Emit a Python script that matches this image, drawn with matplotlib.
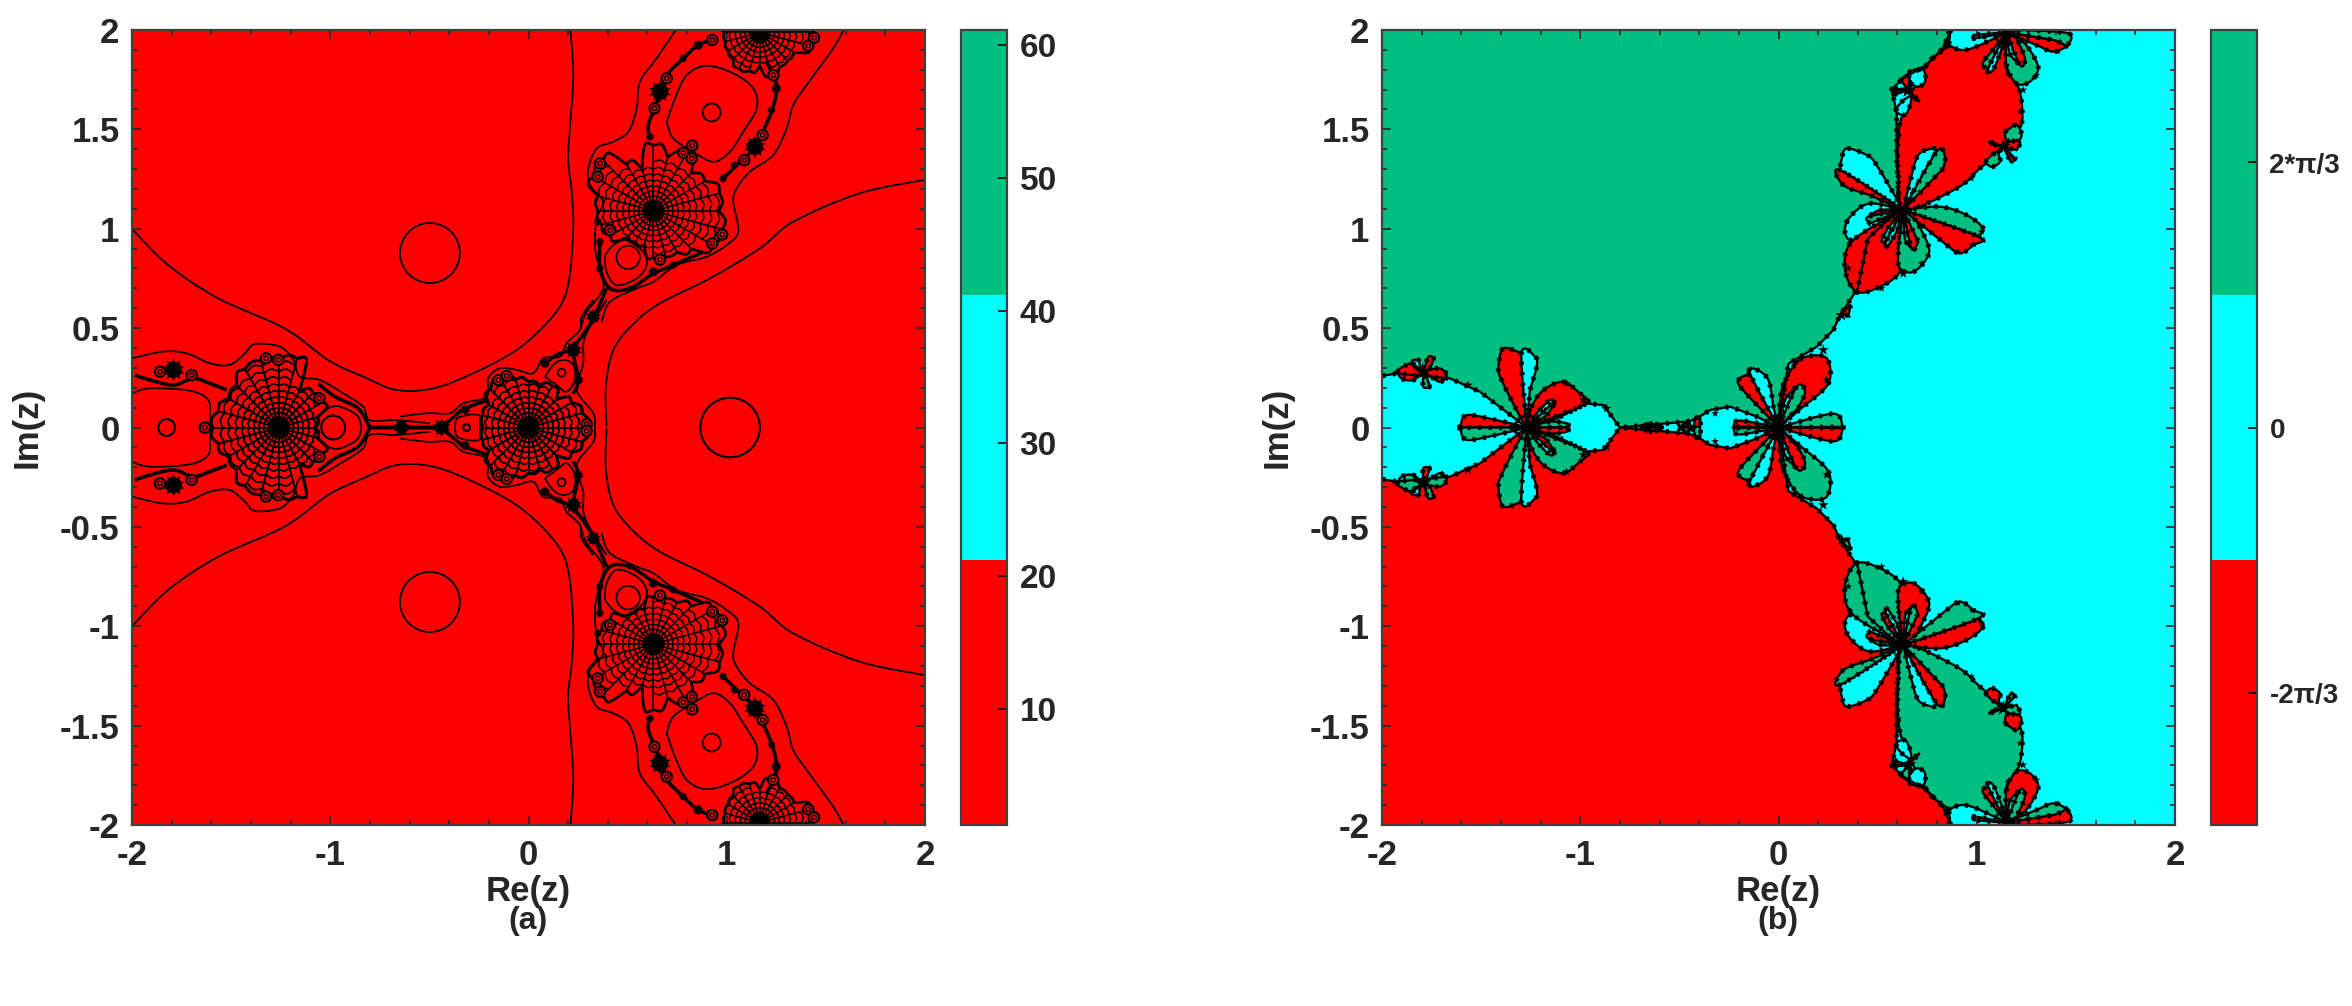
import numpy as np
import matplotlib
matplotlib.use('Agg')
import matplotlib.pyplot as plt
from matplotlib.path import Path
from matplotlib.patches import PathPatch, Circle
from matplotlib.colors import ListedColormap, Normalize
from matplotlib.cm import ScalarMappable

plt.rcParams['font.family'] = ['Liberation Sans', 'DejaVu Sans']
plt.rcParams['font.weight'] = 'bold'
plt.rcParams['axes.unicode_minus'] = False

RED = '#ff0000'
CYAN = '#00ffff'
GREEN = '#00bf80'
SWAP = {RED: GREEN, GREEN: RED, CYAN: CYAN}

x_ticks = [-2, -1, 0, 1, 2]
y_ticks = [-2, -1.5, -1, -0.5, 0, 0.5, 1, 1.5, 2]
y_tick_labels = ['-2', '-1.5', '-1', '-0.5', '0', '0.5', '1', '1.5', '2']
cbar_a_ticks = [10, 20, 30, 40, 50, 60]
cbar_a_range = [1.3, 61.1]
cbar_b_ticks = [-2 * np.pi / 3, 0, 2 * np.pi / 3]
cbar_b_labels = ['-2π/3', '0', '2*π/3']
cbar_b_range = [-np.pi, np.pi]

# ---- panel (a): contour lines, upper half (z, conj z look alike)
outer_left = [(-2, 1), (-1.817, .817), (-1.565, .65), (-1.229, .498), (-1.01, .339), (-.834, .256), (-.666, .189),
              (-.48, .197), (-.278, .273), (-.06, .39), (.092, .525), (.176, .642), (.21, .78), (.226, 1.018),
              (.218, 1.186), (.2, 1.35), (.21, 1.52), (.226, 1.773), (.21, 2.02)]
outer_right = [(2.02, 1.25), (1.67, 1.178), (1.335, 1.035), (1.167, .901), (.915, .75), (.663, .625), (.528, .52),
               (.428, .39), (.39, .206), (.394, .004)]
wrap_left = [(.756, 2.02), (.646, 1.857), (.562, 1.74), (.546, 1.606), (.504, 1.488), (.428, 1.438), (.344, 1.404),
             (.302, 1.304), (.31, 1.22), (.377, 1.136), (.344, 1.052), (.335, .918), (.352, .817), (.377, .70),
             (.293, .582), (.268, .515)]
wrap_right = [(1.6, 2.02), (1.537, 1.908), (1.403, 1.723), (1.335, 1.622), (1.302, 1.505), (1.235, 1.371),
              (1.117, 1.287), (1.05, 1.203), (1.033, 1.136), (1.058, .985), (.999, .918), (.898, .859), (.747, .817),
              (.63, .733), (.546, .70), (.411, .632), (.369, .532)]
wrap_f1_left = [(-.648, .055), (-.514, .072), (-.396, .072), (-.329, .122), (-.211, .155), (-.203, .248),
                (-.144, .298), (-.06, .29), (.024, .273), (.075, .348), (.159, .357), (.192, .424), (.26, .491),
                (.268, .558), (.327, .642)]
wrap_f1_right = [(.394, .642), (.285, .457), (.276, .323), (.243, .189), (.327, .072), (.335, 0)]
wrap_f2 = [(-2, .348), (-1.842, .382), (-1.724, .373), (-1.607, .323), (-1.506, .315), (-1.43, .373), (-1.38, .42),
           (-1.254, .407), (-1.186, .34), (-1.153, .256), (-1.052, .239), (-.934, .172), (-.834, .105), (-.8, .037),
           (-.665, .037), (-.497, .021)]
blob_top = [(.697, 1.538), (.739, 1.656), (.798, 1.773), (.898, 1.82), (1.033, 1.782), (1.134, 1.706), (1.151, 1.606),
            (1.083, 1.488), (1.016, 1.387), (.932, 1.337), (.831, 1.387), (.73, 1.455), (.697, 1.538)]
blob_low = [(.386, .867), (.428, .918), (.495, .943), (.579, .884), (.596, .817), (.546, .75), (.445, .716),
            (.394, .783), (.386, .867)]
blob_f1 = [(.083, .256), (.125, .315), (.176, .34), (.226, .315), (.234, .239), (.192, .18), (.142, .214), (.083, .256)]
blob_left = [(-2, .172), (-1.909, .197), (-1.707, .185), (-1.615, .138), (-1.607, .054), (-1.598, 0)]
blob_f2 = [(-1.077, 0), (-1.044, .071), (-.968, .108), (-.867, .063), (-.842, 0)]
blob_f1_left = [(-.371, 0), (-.354, .05), (-.253, .063), (-.228, 0)]
contours_a = [outer_left, outer_right, wrap_left, wrap_right, wrap_f1_left, wrap_f1_right, wrap_f2, blob_top, blob_low,
              blob_f1, blob_left, blob_f2, blob_f1_left]

band_neck_up = [(.613, 1.455), (.604, 1.522), (.638, 1.606), (.663, 1.69), (.697, 1.773), (.781, 1.857), (.856, 1.924),
                (.949, 1.958)]
band_right = [(.982, 1.253), (1.067, 1.337), (1.142, 1.413), (1.226, 1.589), (1.251, 1.706), (1.235, 1.773), (1.201, 1.84)]
band_low = [(.361, .934), (.361, .80), (.411, .70), (.512, .70), (.63, .775), (.73, .817), (.882, .884)]
band_neck = [(.394, .70), (.327, .548), (.27, .46), (.226, .39), (.251, .24), (.225, .17)]
band_f1_top = [(.083, .323), (.15, .37), (.226, .39)]
band_f1_left = [(-.438, 0), (-.37, .06), (-.32, .096), (-.2, .14)]
band_axis = [(-.8, 0), (-.44, 0)]
band_f2_right = [(-1.06, .22), (-.976, .155), (-.859, .096), (-.8, 0)]
band_f2_left = [(-1.985, .264), (-1.909, .239), (-1.79, .214), (-1.69, .247), (-1.607, .222), (-1.522, .189)]
bands_a = [band_neck_up, band_right, band_low, band_neck, band_f1_top, band_f1_left, band_axis, band_f2_right, band_f2_left]

# flower webs: centre and reach of each spoke, every 15 degrees from 0
web_f1 = (0, 0, [.30, .28, .25, .20, .24, .22, .23, .25, .29, .27, .23, .24, .24, .24, .23, .27, .29, .25, .23, .22, .24, .20, .25, .28])
web_f2 = (-1.26, 0, [.185, .20, .26, .245, .21, .36, .34, .35, .34, .30, .29, .315, .335, .315, .29, .30, .34, .35, .34, .36, .21, .245, .26, .20])
web_f3 = (.63, 1.09, [.33, .345, .30, .27, .32, .28, .33, .22, .27, .36, .35, .29, .28, .27, .25, .19, .19, .18, .235, .24, .24, .27, .34, .36])
web_top = (1.167, 1.988, [.27, .2, .2, .2, .2, .2, .2, .2, .2, .2, .2, .2, .18, .18, .185, .19, .21, .2, .17, .22, .2, .2, .2, .26])
webs = [web_f1, web_f2, web_f3, web_top]
web_radii = [.05, .072, .095, .12, .148, .178, .21, .245, .282, .32]

clusters_a_x = [.663, 1.142, -1.79, -.64, -.438, .327, .226, -.32, .083, .251, .36, .63, .73, .51, .36, .35, .613, 1.226, 1.25, .78, .856, .982, 1.04]
clusters_a_y = [1.69, 1.413, .29, .004, 0, .558, .39, .09, .323, .24, .80, .783, .817, .70, .935, 1.035, 1.463, 1.597, 1.706, 1.857, 1.924, 1.253, 1.32]
clusters_a_r = [.05, .05, .05, .035, .04, .035, .04, .025, .025, .025, .02, .025, .02, .015, .02, .02, .02, .02, .025, .02, .025, .02, .02]

circles_x = [-.497, 1.017, .924, .503, -.985, -1.825, .167, -.312]
circles_y = [.878, 0, 1.585, .856, 0, 0, .276, 0]
circles_r = [.151, .15, .045, .059, .06, .042, .02, .017]
rings_x = [.927, 1.235, .411, .663, .361, .349, .977, .927, .697, .635, 1.181, 1.088, .826, .781, .823, 1.411, 1.44,
           -1.859, -1.699, -1.324, -1.262, -1.055, -1.632, -.152, -.11, .293]
rings_y = [1.95, 1.773, .993, .845, 1.329, 1.262, .971, .926, 1.757, 1.606, 1.471, 1.345, 1.418, 1.382, 1.354, 1.921, 1.961,
           .281, .264, .348, .34, .147, 0, .239, .259, .017]

# ---- panel (b): basin edge and coloured pieces, upper half. The lower half is its mirror with red and green swapped
basin_edge = [(.87, 2), (.83, 1.91), (.747, 1.824), (.629, 1.757), (.57, 1.70), (.596, 1.589), (.596, 1.354), (.613, 1.1),
              (.45, .95), (.40, .70), (.31, .565), (.277, .491), (.193, .407), (.05, .32), (0, 0), (-.11, .055),
              (-.244, .105), (-.345, .088), (-.42, .04), (-.46, .03), (-.8, 0), (-.884, .113), (-.968, .121),
              (-1.018, .096), (-1.27, 0), (-1.506, .18), (-1.657, .247), (-1.926, .272), (-2, .26)]
basin_corner = [(-2, 2)]

c3 = (.629, 1.094)
c1 = (0, 0)
c2 = (-1.27, 0)
ct = (1.15, 1.988)
s1 = (.655, 1.698)
s2 = (1.134, 1.413)
s4 = (-1.795, .281)

pieces = [
    (RED, [(.865, 1.924), (.747, 1.824), (.638, 1.606), (.604, 1.471), (.604, 1.27), c3, (.898, 1.203), (1.016, 1.304),
           (1.10, 1.371), (1.218, 1.505), (1.226, 1.639), (1.201, 1.731), (1.15, 1.807), (1.15, 1.975), (.99, 1.93), (.865, 1.924)]),
    (CYAN, [c3, (.663, 1.236), (.705, 1.371), (.781, 1.404), (.797, 1.387)]),
    (GREEN, [c3, (.797, 1.387), (.84, 1.362), (.831, 1.304)]),
    (CYAN, [c3, (.495, 1.32), (.445, 1.371), (.344, 1.404), (.319, 1.354), (.31, 1.295)]),
    (RED, [c3, (.31, 1.295), (.327, 1.22), (.461, 1.169)]),
    (CYAN, [c3, (.461, 1.127), (.361, 1.06), (.335, .985), (.377, .943), (.512, 1.018)]),
    (RED, [c3, (.512, 1.094), (.453, 1.06)]),
    (GREEN, [c3, (.453, 1.06), (.461, 1.027)]),
    (RED, [c3, (.377, .943), (.335, .80), (.394, .683), (.512, .708), (.613, .783), (.604, .884)]),
    (GREEN, [c3, (.562, 1.018), (.52, .943), (.54, .93)]),
    (CYAN, [c3, (.54, .93), (.554, .918), (.596, .985)]),
    (GREEN, [c3, (.604, .884), (.613, .80), (.68, .783), (.747, .85), (.755, .918), (.68, 1.069)]),
    (CYAN, [c3, (.638, .951), (.671, .901)]),
    (RED, [c3, (.671, .901), (.705, .934)]),
    (GREEN, [c3, (.814, 1.111), (.949, 1.069), (1.033, 1.002), (1.008, .96)]),
    (RED, [c3, (1.008, .96), (.982, .918), (.915, .876), (.848, .918)]),
    # flower cut by the top edge
    (CYAN, [ct, (1.016, 1.924), (.932, 1.899), (.865, 1.924), (.865, 1.975), (.865, 2.03), (1.15, 2.03)]),
    (GREEN, [ct, (.991, 1.958), (.982, 1.975)]),
    (GREEN, [ct, (1.10, 1.924), (1.03, 1.832), (1.058, 1.807)]),
    (CYAN, [ct, (1.058, 1.807), (1.083, 1.8), (1.134, 1.924)]),
    (GREEN, [ct, (1.15, 1.824), (1.201, 1.731), (1.268, 1.74), (1.31, 1.807), (1.268, 1.899), (1.201, 1.975)]),
    (CYAN, [ct, (1.167, 1.882), (1.218, 1.824)]),
    (RED, [ct, (1.218, 1.824), (1.243, 1.857), (1.201, 1.958)]),
    (RED, [ct, (1.302, 1.924), (1.386, 1.891), (1.453, 1.924), (1.386, 1.95)]),
    (GREEN, [ct, (1.386, 1.95), (1.453, 1.924), (1.461, 1.983), (1.234, 2.0)]),
    # small flowers
    (CYAN, [(.663, 1.731), (.663, 1.79), (.73, 1.799), (.739, 1.74), (.705, 1.715), (.663, 1.731)]),
    (RED, [s1, (.621, 1.748), (.655, 1.773), (.66, 1.723)]),
    (CYAN, [s1, (.571, 1.706), (.579, 1.694)]),
    (RED, [s1, (.579, 1.694), (.579, 1.673)]),
    (CYAN, [(.629, 1.647), (.596, 1.606), (.604, 1.58), (.646, 1.58), (.671, 1.664), (.629, 1.647)]),
    (CYAN, [s1, (.68, 1.664), (.713, 1.639)]),
    (GREEN, [(1.142, 1.488), (1.201, 1.522), (1.226, 1.471), (1.201, 1.438), (1.15, 1.446), (1.142, 1.488)]),
    (RED, [s2, (1.167, 1.438), (1.218, 1.438), (1.201, 1.396)]),
    (CYAN, [s2, (1.066, 1.438), (1.075, 1.424)]),
    (GREEN, [s2, (1.05, 1.345), (1.075, 1.312), (1.117, 1.337), (1.108, 1.379)]),
    (RED, [s2, (1.15, 1.379), (1.175, 1.334), (1.192, 1.354)]),
    (RED, [(.318, .565), (.335, .59), (.361, .607), (.352, .565)]),
    # flower at the origin
    (RED, [c1, (-.06, .063), (-.194, .206), (-.194, .248), (-.143, .27)]),
    (CYAN, [c1, (-.143, .27), (-.11, .29), (-.051, .239), (-.026, .105)]),
    (RED, [c1, (.016, .189), (.075, .306), (.142, .357), (.243, .348), (.252, .222), (.125, .105)]),
    (CYAN, [c1, (.033, .138), (.092, .206)]),
    (GREEN, [c1, (.092, .206), (.134, .18), (.1, .10)]),
    (GREEN, [c1, (.227, .062), (.302, .062), (.324, .003)]),
    (RED, [c1, (-.194, .035), (-.227, .004)]),
    # flower at -1.27
    (RED, [c2, (-1.321, .087), (-1.397, .239), (-1.413, .297), (-1.388, .398), (-1.296, .373)]),
    (CYAN, [c2, (-1.296, .373), (-1.228, .356), (-1.22, .306), (-1.254, .188)]),
    (RED, [c2, (-1.245, .104), (-1.186, .188), (-1.086, .23), (-1.002, .172), (-.96, .13), (-1.018, .096), (-1.136, .037)]),
    (CYAN, [c2, (-1.22, .071), (-1.153, .138), (-1.128, .13)]),
    (GREEN, [c2, (-1.128, .13), (-1.17, .06)]),
    (GREEN, [c2, (-1.153, .029), (-1.069, .021), (-1.06, 0)]),
    (RED, [c2, (-1.422, .037), (-1.573, .062), (-1.606, 0)]),
    (RED, [s4, (-1.842, .239), (-1.901, .247), (-1.918, .289), (-1.859, .323)]),
    (RED, [s4, (-1.766, .264), (-1.707, .23), (-1.674, .264), (-1.707, .297), (-1.766, .289)]),
    (RED, [s4, (-1.783, .306), (-1.766, .356), (-1.741, .348), (-1.758, .297)]),
    (CYAN, [s4, (-1.85, .331), (-1.817, .339), (-1.808, .306)]),
    (GREEN, [s4, (-1.792, .255), (-1.792, .205), (-1.761, .205), (-1.775, .255)]),
    # necks along the real axis
    (CYAN, [(-.699, 0), (-.666, .02), (-.607, .012), (-.58, 0)]),
    (CYAN, [(-.504, 0), (-.47, .02), (-.44, 0)]),
    (RED, [(-.42, .046), (-.397, .054), (-.397, 0), (-.43, 0)]),
]

knots_x = [.655, 1.134, 1.15, -1.795, .318, -.649, -.447, -1.565, -.985, -.867, -1.069, .226, .243, .083, -.32, .848, .772, .604,
           1.218, 1.234, .974, .629, .722, .52, .352, .361, .344, 1.302, 1.411, 1.024, .974, .907]
knots_y = [1.698, 1.413, 1.99, .281, .565, 0, 0, .213, .138, .096, .222, .39, .239, .332, .07, 1.924, 1.857, 1.463, 1.589, 1.698,
           1.253, .775, .825, .70, .80, .926, 1.035, 1.773, 1.891, .985, .918, .884]
knots_s = [150, 130, 130, 170, 90, 70, 90, 50, 50, 50, 40, 70, 45, 40, 35, 45, 25, 35, 30, 40, 30, 60, 35, 35, 35, 30, 25, 30, 25, 30, 20, 25]


def flip(pts):
    return [(p[0], -p[1]) for p in pts]


def smooth_path(pts, closed=False):
    # cubic pieces that pass through every read point
    pts = np.asarray(pts, dtype=float)
    verts = [pts[0]]
    codes = [Path.MOVETO]
    n = len(pts)
    for i in range(n - 1):
        before = pts[max(i - 1, 0)]
        after = pts[min(i + 2, n - 1)]
        verts += [pts[i] + (pts[i + 1] - before) / 6, pts[i + 1] - (after - pts[i]) / 6, pts[i + 1]]
        codes += [Path.CURVE4] * 3
    if closed:
        verts.append(pts[0])
        codes.append(Path.CLOSEPOLY)
    return Path(verts, codes)


def add_curve(ax, pts, lw=1.3):
    ax.add_patch(PathPatch(smooth_path(pts), fill=False, edgecolor='black', lw=lw))


def draw_web(ax, cx, cy, reach):
    ang = np.radians(np.arange(0, 360, 15))
    n = len(ang)
    for a, r in zip(ang, reach):
        ax.plot([cx, cx + r * np.cos(a)], [cy, cy + r * np.sin(a)], color='black', lw=1.2, solid_capstyle='round')
    for i in range(n):
        j = (i + 1) % n
        mid = ang[i] + np.radians(7.5)
        reach_both = min(reach[i], reach[j])
        for r in web_radii:
            if r > reach_both:
                continue
            pts = [(cx + r * np.cos(ang[i]), cy + r * np.sin(ang[i])),
                   (cx + r * 1.05 * np.cos(mid), cy + r * 1.05 * np.sin(mid)),
                   (cx + r * np.cos(ang[j]), cy + r * np.sin(ang[j]))]
            add_curve(ax, pts, lw=1.1)
        # closes the lobe
        far = max(reach[i], reach[j]) * 1.02
        pts = [(cx + reach[i] * np.cos(ang[i]), cy + reach[i] * np.sin(ang[i])),
               (cx + far * np.cos(mid), cy + far * np.sin(mid)),
               (cx + reach[j] * np.cos(ang[j]), cy + reach[j] * np.sin(ang[j]))]
        add_curve(ax, pts, lw=2)
    ax.add_patch(Circle((cx, cy), .05, color='black', lw=0))


def draw_panel_a(ax):
    ax.set_facecolor(RED)
    for c in contours_a:
        add_curve(ax, c)
        add_curve(ax, flip(c))
    for b in bands_a:
        add_curve(ax, b, lw=2.6)
        add_curve(ax, flip(b), lw=2.6)
    for w in webs:
        draw_web(ax, w[0], w[1], w[2])
        draw_web(ax, w[0], -w[1], w[2][::-1][-1:] + w[2][::-1][:-1])
    sizes = (np.array(clusters_a_r) * 198 * 0.72 * 2) ** 2 * 1.4
    for sign in (1, -1):
        ys = sign * np.array(clusters_a_y)
        ax.scatter(clusters_a_x, ys, s=sizes, marker=(10, 1, 0), color='black', lw=0, zorder=3)
        ax.scatter(clusters_a_x, ys, s=sizes * 0.5, marker='o', color='black', lw=0, zorder=3)
    for x, y, r in zip(circles_x, circles_y, circles_r):
        ax.add_patch(Circle((x, y), r, fill=False, edgecolor='black', lw=1.3))
        ax.add_patch(Circle((x, -y), r, fill=False, edgecolor='black', lw=1.3))
    for x, y in zip(rings_x, rings_y):
        for yy in (y, -y):
            ax.add_patch(Circle((x, yy), .026, facecolor=RED, edgecolor='black', lw=1.6, zorder=3.5))
            ax.add_patch(Circle((x, yy), .011, fill=False, edgecolor='black', lw=1, zorder=3.5))


def beaded(ax, path):
    ax.add_patch(PathPatch(path, fill=False, edgecolor='black', lw=1.7))
    ax.add_patch(PathPatch(path, fill=False, edgecolor='black', lw=3.6, linestyle=(0, (0.6, 1.5))))


def draw_panel_b(ax):
    ax.set_facecolor(CYAN)
    ax.fill(*zip(*(basin_corner + basin_edge)), color=GREEN, lw=0)
    ax.fill(*zip(*flip(basin_corner + basin_edge)), color=RED, lw=0)
    for pts in (basin_edge, flip(basin_edge)):
        xy = np.array(pts)
        ax.plot(xy[:, 0], xy[:, 1], color='black', lw=1.7)
        ax.plot(xy[:, 0], xy[:, 1], color='black', lw=3.6, linestyle=(0, (0.6, 1.5)))
    for colour, pts in pieces:
        for c, p in ((colour, pts), (SWAP[colour], flip(pts))):
            path = smooth_path(p, closed=True)
            ax.add_patch(PathPatch(path, facecolor=c, edgecolor='none'))
            beaded(ax, path)
    ax.scatter(knots_x, knots_y, s=knots_s, marker='*', color='black', lw=0, zorder=4)
    ax.scatter(knots_x, -np.array(knots_y), s=knots_s, marker='*', color='black', lw=0, zorder=4)
    for c in (c1, c2, c3, (c3[0], -c3[1]), ct, (ct[0], -ct[1])):
        ax.scatter(*c, s=40, color='black', lw=0, zorder=4)


def style_axes(ax):
    ax.set_xlim(-2, 2)
    ax.set_ylim(-2, 2)
    ax.set_xticks(x_ticks)
    ax.set_xticks(np.arange(-2, 2.01, .2), minor=True)
    ax.set_yticks(y_ticks)
    ax.set_yticks(np.arange(-2, 2.01, .1), minor=True)
    ax.set_yticklabels(y_tick_labels)
    ax.tick_params(which='major', direction='in', length=6.5, width=1.2, top=True, right=True, labelsize=25, colors='#262626')
    ax.tick_params(axis='x', which='major', pad=10)
    ax.tick_params(axis='y', which='major', pad=9)
    ax.tick_params(which='minor', direction='in', length=3.5, width=1.2, top=True, right=True, color='#262626')
    for s in ax.spines.values():
        s.set_color('#404040')
        s.set_linewidth(1.6)
        s.set_zorder(6)
    ax.set_xlabel('Re(z)', fontsize=25, fontweight='bold', color='#262626')
    ax.set_ylabel('Im(z)', fontsize=25, fontweight='bold', color='#262626')
    ax.xaxis.set_label_coords(0.5, -0.084)
    ax.yaxis.set_label_coords(-0.132, 0.5)
    ax.xaxis.label.set_va('center')
    ax.yaxis.label.set_va('center')


def add_colorbar(fig, left, vrange, ticks, labels, size):
    cax = fig.add_axes([left / 2352, 181 / 1006, 46 / 2352, 795 / 1006])
    sm = ScalarMappable(Normalize(*vrange), ListedColormap([RED, CYAN, GREEN]))
    cb = fig.colorbar(sm, cax=cax)
    cb.set_ticks(ticks)
    cb.set_ticklabels(labels)
    cb.ax.minorticks_off()
    cb.ax.tick_params(direction='in', length=6.5, width=1.2, labelsize=size, color='black', labelcolor='#262626', pad=9)
    cb.outline.set_edgecolor('#404040')
    cb.outline.set_linewidth(1.6)


fig = plt.figure(figsize=(23.52, 10.06), dpi=100)
ax_a = fig.add_axes([132 / 2352, 181 / 1006, 793 / 2352, 795 / 1006])
ax_b = fig.add_axes([1382 / 2352, 181 / 1006, 793 / 2352, 795 / 1006])

draw_panel_a(ax_a)
draw_panel_b(ax_b)
style_axes(ax_a)
style_axes(ax_b)

add_colorbar(fig, 961, cbar_a_range, cbar_a_ticks, [str(t) for t in cbar_a_ticks], 24)
add_colorbar(fig, 2211, cbar_b_range, cbar_b_ticks, cbar_b_labels, 20)

fig.text(528 / 2352, 1 - 921 / 1006, '(a)', fontsize=23, color='#262626', ha='center', va='center')
fig.text(1778 / 2352, 1 - 921 / 1006, '(b)', fontsize=23, color='#262626', ha='center', va='center')

fig.savefig('out.png', dpi=100)
